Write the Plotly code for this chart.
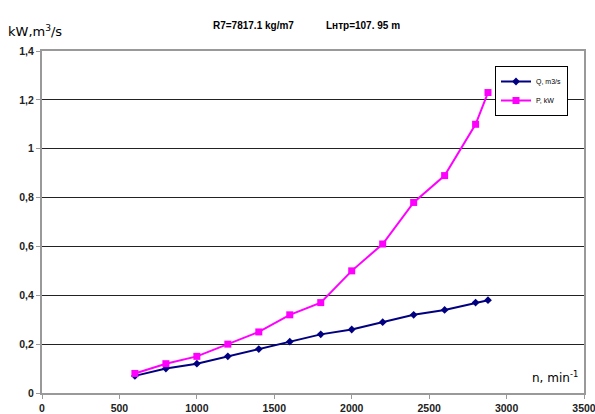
import plotly.graph_objects as go

# rotational speed, min^-1
n = [600, 800, 1000, 1200, 1400, 1600, 1800, 2000, 2200, 2400, 2600, 2800, 2880]
# flow rate, m3/s
q = [0.07, 0.10, 0.12, 0.15, 0.18, 0.21, 0.24, 0.26, 0.29, 0.32, 0.34, 0.37, 0.38]
# power, kW
p = [0.08, 0.12, 0.15, 0.20, 0.25, 0.32, 0.37, 0.50, 0.61, 0.78, 0.89, 1.10, 1.23]

x_ticks = [0, 500, 1000, 1500, 2000, 2500, 3000, 3500]
y_ticks = [0, 0.2, 0.4, 0.6, 0.8, 1.0, 1.2, 1.4]
y_labels = ["0", "0,2", "0,4", "0,6", "0,8", "1", "1,2", "1,4"]

W, H = 595, 414
ML, MR, MT, MB = 42, 11, 51, 21
PW, PH = W - ML - MR, H - MT - MB


def px(xp):
    """horizontal pixel -> paper coordinate"""
    return (xp - ML) / PW


def py(yp):
    """vertical pixel -> paper coordinate"""
    return 1 - (yp - MT) / PH


tick_font = dict(family="Liberation Sans", size=10.5, color="#222", weight="bold")

fig = go.Figure()
fig.add_trace(go.Scatter(
    x=n, y=q, name="Q, m3/s", mode="lines+markers",
    line=dict(color="#000080", width=2),
    marker=dict(symbol="diamond", size=6, color="#000080"),
))
fig.add_trace(go.Scatter(
    x=n, y=p, name="P, kW", mode="lines+markers",
    line=dict(color="#FF00FF", width=2),
    marker=dict(symbol="square", size=7, color="#FF00FF"),
))

fig.update_layout(
    width=W, height=H,
    margin=dict(l=ML, r=MR, t=MT, b=MB, autoexpand=False),
    paper_bgcolor="white", plot_bgcolor="white",
    showlegend=True,
    legend=dict(
        x=px(568), y=py(66), xanchor="right", yanchor="top",
        bgcolor="white", bordercolor="#000", borderwidth=1,
        font=dict(family="Liberation Sans", size=7, color="#000"),
        itemwidth=30, tracegroupgap=0,
    ),
    xaxis=dict(
        range=[0, 3500], tickvals=x_ticks, showgrid=False,
        showline=True, linecolor="#999", linewidth=2, mirror=True,
        ticks="outside", ticklen=4, tickcolor="#999",
        tickfont=tick_font, zeroline=False, ticklabeloverflow="allow",
    ),
    yaxis=dict(
        range=[0, 1.4], tickvals=y_ticks, ticktext=y_labels,
        showgrid=True, gridcolor="#222", gridwidth=1,
        showline=True, linecolor="#999", linewidth=2, mirror=True,
        ticks="outside", ticklen=4, tickcolor="#999",
        tickfont=tick_font, zeroline=False, ticklabeloverflow="allow",
    ),
    annotations=[
        dict(text="R7=7817.1 kg/m7", x=px(253), y=py(18),
             xref="paper", yref="paper", showarrow=False,
             font=dict(family="Liberation Sans", size=10, color="#000", weight="bold")),
        dict(text="Lнтр=107. 95 m", x=px(363), y=py(18),
             xref="paper", yref="paper", showarrow=False,
             font=dict(family="Liberation Sans", size=10, color="#000", weight="bold")),
        dict(text="kW,m<sup>3</sup>/s", x=px(6), y=py(41),
             xref="paper", yref="paper", xanchor="left", yanchor="bottom",
             showarrow=False,
             font=dict(family="DejaVu Sans", size=13, color="#000")),
        dict(text="n, min<sup>-1</sup>", x=px(580), y=py(387),
             xref="paper", yref="paper", xanchor="right", yanchor="bottom",
             showarrow=False,
             font=dict(family="DejaVu Sans", size=12, color="#000")),
    ],
)

fig.write_html("out.html")
